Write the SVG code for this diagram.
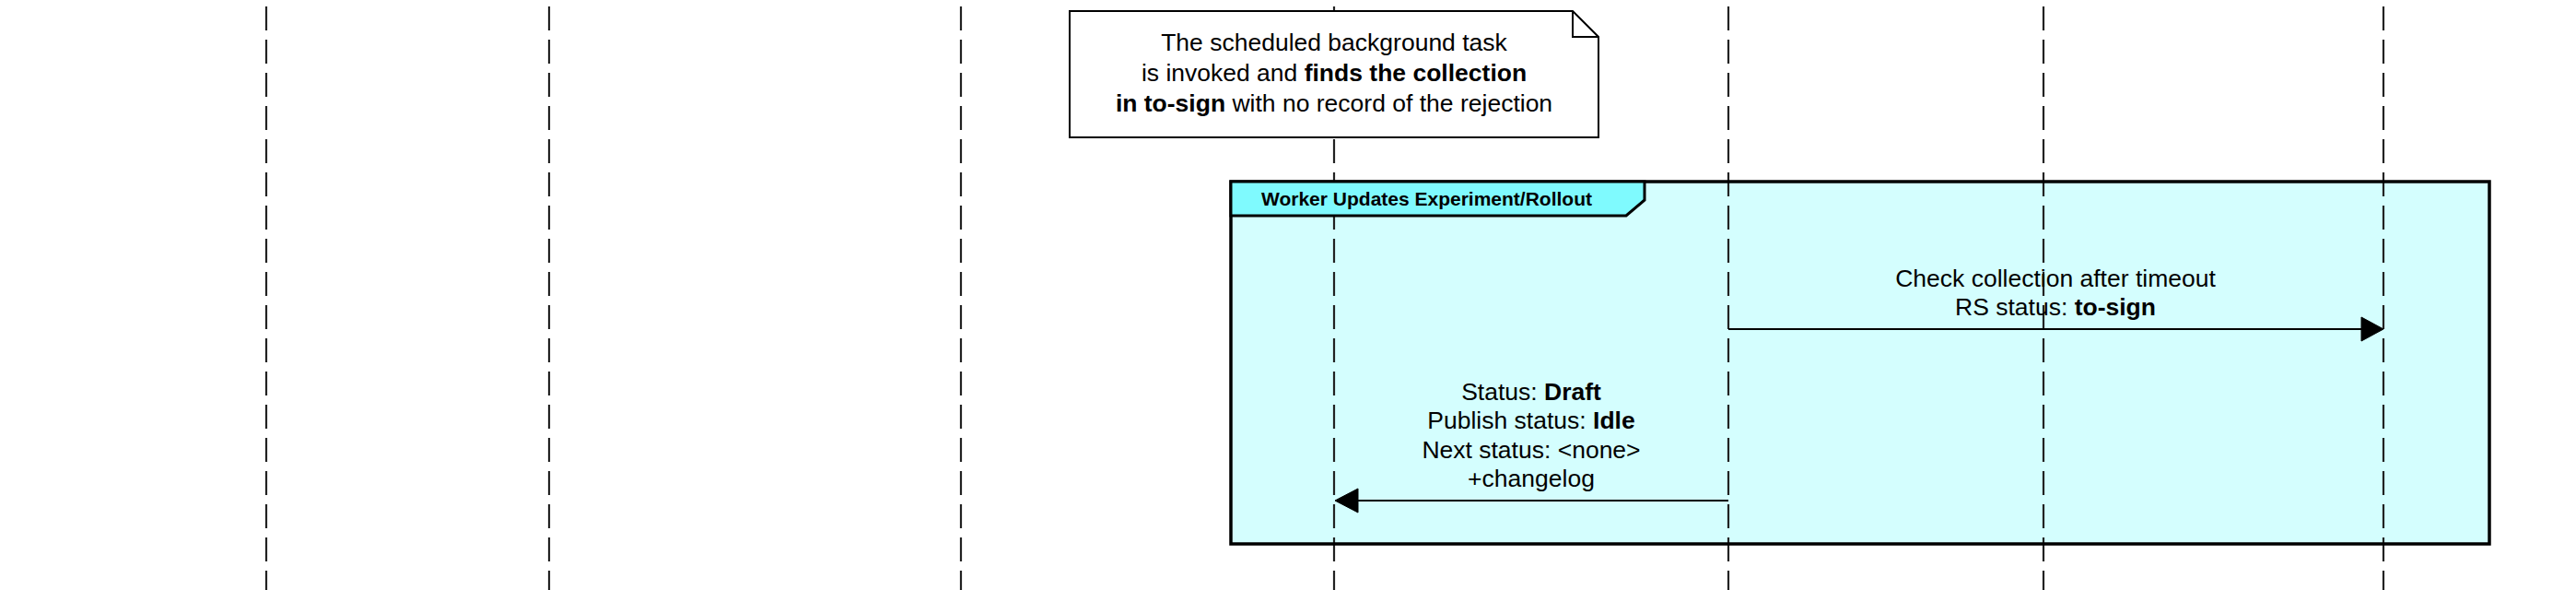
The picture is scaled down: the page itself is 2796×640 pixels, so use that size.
<svg xmlns="http://www.w3.org/2000/svg" width="2796" height="640" viewBox="0 0 2796 640">
<style>
.ll{stroke:#222;stroke-width:2.2;stroke-dasharray:26 10;fill:none}
.t{font-family:"Liberation Sans",Arial,sans-serif;font-size:26.5px;fill:#000;text-anchor:middle}
.b{font-weight:bold}
.msg{stroke:#000;stroke-width:2.2;fill:none}
.head{fill:#000;stroke:#000;stroke-width:1}
</style>
<rect x="0" y="0" width="2796" height="640" fill="#fff"/>
<g id="frame-body">
<rect x="1336" y="197" width="1366" height="393" fill="#D4FEFE" stroke="none"/>
</g>
<g id="lifelines">
<line class="ll" x1="289" y1="7" x2="289" y2="640"/>
<line class="ll" x1="596" y1="7" x2="596" y2="640"/>
<line class="ll" x1="1043" y1="7" x2="1043" y2="640"/>
<line class="ll" x1="1448" y1="7" x2="1448" y2="640"/>
<line class="ll" x1="1876" y1="7" x2="1876" y2="640"/>
<line class="ll" x1="2218" y1="7" x2="2218" y2="640"/>
<line class="ll" x1="2587" y1="7" x2="2587" y2="640"/>
</g>
<g id="frame">
<rect x="1336" y="197" width="1366" height="393" fill="none" stroke="#000" stroke-width="3.5"/>
<polygon points="1336,197 1785,197 1785,217 1765,234 1336,234" fill="#7FFAFE" stroke="#000" stroke-width="3"/>
<text x="1369" y="223" font-family="Liberation Sans, Arial, sans-serif" font-size="21" font-weight="bold" fill="#000">Worker Updates Experiment/Rollout</text>
</g>
<g id="note">
<path d="M1161,12 L1707,12 L1735,40 L1735,149 L1161,149 Z" fill="#fff" stroke="#000" stroke-width="2"/>
<path d="M1707,12 L1707,40 L1735,40" fill="none" stroke="#000" stroke-width="2"/>
<text class="t" x="1448" y="55">The scheduled background task</text>
<text class="t" x="1448" y="88">is invoked and <tspan class="b">finds the collection</tspan></text>
<text class="t" x="1448" y="121"><tspan class="b">in to-sign</tspan> with no record of the rejection</text>
</g>
<g id="connectors">
<g id="msg1">
<line class="msg" x1="1876" y1="357" x2="2564" y2="357"/>
<polygon class="head" points="2587,357 2563,344 2563,370"/>
<text class="t" x="2231" y="311">Check collection after timeout</text>
<text class="t" x="2231" y="342">RS status: <tspan class="b">to-sign</tspan></text>
</g>
<g id="msg2">
<line class="msg" x1="1876" y1="543" x2="1472" y2="543"/>
<polygon class="head" points="1449,543 1474,530 1474,556"/>
<text class="t" x="1662" y="434">Status: <tspan class="b">Draft</tspan></text>
<text class="t" x="1662" y="465">Publish status: <tspan class="b">Idle</tspan></text>
<text class="t" x="1662" y="496.5">Next status: &lt;none&gt;</text>
<text class="t" x="1662" y="528">+changelog</text>
</g>
</g>
</svg>
